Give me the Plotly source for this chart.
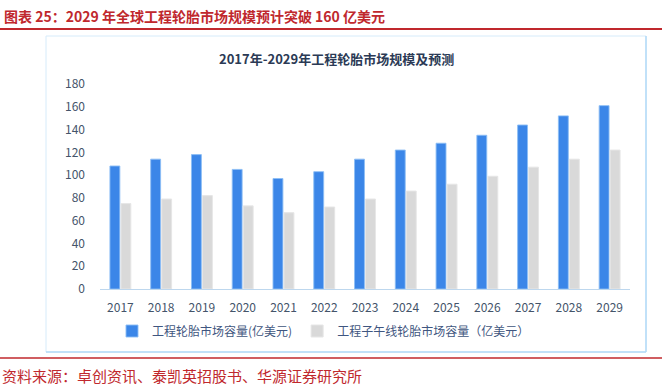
import plotly.graph_objects as go

years = ["2017", "2018", "2019", "2020", "2021", "2022", "2023",
         "2024", "2025", "2026", "2027", "2028", "2029"]
otr_market = [108, 114, 118, 105, 97, 103, 114, 122, 128, 135, 144, 152, 161]
radial_market = [75, 79, 82, 73, 67, 72, 79, 86, 92, 99, 107, 114, 122]
y_ticks = [0, 20, 40, 60, 80, 100, 120, 140, 160, 180]

W, H = 662, 390
L, R, T, B = 100, 32, 84, 101
PW, PH = W - L - R, H - T - B


def px(x):
    return (x - L) / PW


def py(y):
    return (H - B - y) / PH


FONT = "Noto Sans CJK SC"
TICK_COLOR = "#44546a"
RED = "#c0282d"

fig = go.Figure()
fig.add_trace(go.Bar(
    x=years, y=otr_market, name="工程轮胎市场容量(亿美元)",
    marker=dict(color="#3b86e8", line=dict(color="rgba(140,190,245,0.9)", width=1)),
))
fig.add_trace(go.Bar(
    x=years, y=radial_market, name="工程子午线轮胎市场容量（亿美元）",
    marker=dict(color="#d9d9d9", line=dict(color="#e6e6e6", width=1)),
))

fig.update_layout(
    width=W, height=H,
    margin=dict(l=L, r=R, t=T, b=B, pad=0),
    paper_bgcolor="white", plot_bgcolor="white",
    barmode="group", bargap=0.46, bargroupgap=0.1,
    font=dict(family=FONT, color=TICK_COLOR, size=12),
    showlegend=True,
    legend=dict(orientation="h", x=px(112), y=py(331), xanchor="left", yanchor="middle",
                font=dict(size=12, color="#3f5680"), bgcolor="rgba(0,0,0,0)",
                itemwidth=30),
    xaxis=dict(type="category", showgrid=False, showline=True, linecolor="#bdd7ee",
               linewidth=1, ticks="", tickfont=dict(size=12, color=TICK_COLOR),
               ticklabelstandoff=8),
    yaxis=dict(range=[0, 180], tickvals=y_ticks, showgrid=False, zeroline=False,
               showline=False, ticks="", tickfont=dict(size=12, color=TICK_COLOR),
               ticklabelstandoff=14),
)

shapes = [
    # top red rule
    dict(type="line", xref="paper", yref="paper", x0=px(0), x1=px(662), y0=py(29), y1=py(29),
         line=dict(color=RED, width=2)),
    # chart frame
    dict(type="rect", xref="paper", yref="paper", x0=px(46), x1=px(646), y0=py(352), y1=py(36),
         line=dict(color="#d6ebfa", width=1)),
    dict(type="line", xref="paper", yref="paper", x0=px(46), x1=px(646), y0=py(352), y1=py(352),
         line=dict(color="#b3daf7", width=1.5)),
    dict(type="line", xref="paper", yref="paper", x0=px(646), x1=px(646), y0=py(352), y1=py(36),
         line=dict(color="#b3daf7", width=1.5)),
    # bottom red rule
    dict(type="line", xref="paper", yref="paper", x0=px(0), x1=px(662), y0=py(358), y1=py(358),
         line=dict(color=RED, width=1.5)),
]
fig.update_layout(shapes=shapes)

annotations = [
    dict(text="图表 25：2029 年全球工程轮胎市场规模预计突破 160 亿美元", xref="paper", yref="paper",
         x=px(2), y=py(16), xanchor="left", yanchor="middle", showarrow=False,
         font=dict(family=FONT, size=14, color=RED, weight="bold")),
    dict(text="2017年-2029年工程轮胎市场规模及预测", xref="paper", yref="paper",
         x=px(336), y=py(58), xanchor="center", yanchor="middle", showarrow=False,
         font=dict(family=FONT, size=13, color="#2b3a55", weight="bold")),
    dict(text="资料来源：卓创资讯、泰凯英招股书、华源证券研究所", xref="paper", yref="paper",
         x=px(0), y=py(375), xanchor="left", yanchor="middle", showarrow=False,
         font=dict(family=FONT, size=15, color=RED)),
]
fig.update_layout(annotations=annotations)

fig.write_html(
    "out.html",
    config={"displayModeBar": False},
    post_script="document.body.style.margin='0';document.body.style.padding='0';"
                "document.documentElement.style.overflow='hidden';",
)
